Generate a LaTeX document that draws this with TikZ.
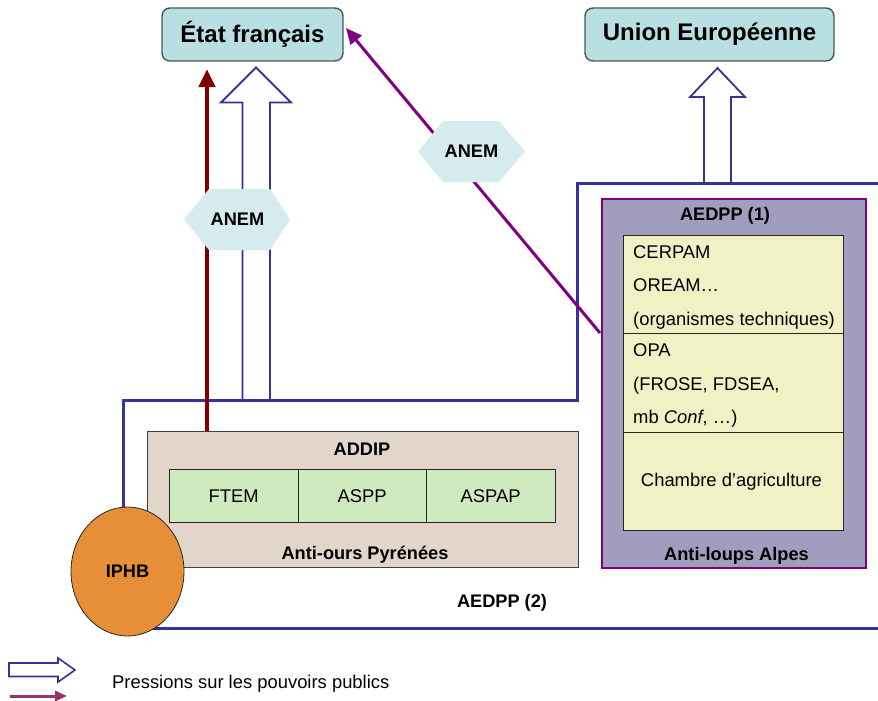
\documentclass[tikz,border=0pt]{standalone}
\usepackage{fontspec}
\setmainfont{Liberation Sans}
\usetikzlibrary{arrows.meta,shapes.geometric}
\definecolor{tealfill}{HTML}{B8DFE2}
\definecolor{boxedge}{HTML}{4A5656}
\definecolor{anemfill}{HTML}{D5EBEE}
\definecolor{outline}{HTML}{333399}
\definecolor{darkred}{HTML}{800000}
\definecolor{purp}{HTML}{800080}
\definecolor{legpurp}{HTML}{993366}
\definecolor{iphbfill}{HTML}{E68F38}
\definecolor{beige}{HTML}{E2D6CB}
\definecolor{greenfill}{HTML}{CFEABF}
\definecolor{lavender}{HTML}{A09DBD}
\definecolor{yellowfill}{HTML}{F0F2C6}
\begin{document}
\begin{tikzpicture}[x=1pt,y=-1pt,
  every node/.style={font=\fontsize{18.4}{22}\selectfont, inner sep=0pt},
  boldtxt/.style={font=\fontsize{18.2}{22}\selectfont\bfseries},
  govbox/.style={draw=boxedge, fill=tealfill, rounded corners=8pt, line width=1.4pt,
    minimum height=53pt, font=\fontsize{24}{28}\selectfont\bfseries},
  blueline/.style={draw=outline, line width=3pt},
  hollow/.style={draw=outline, fill=white, line width=1.8pt, line join=miter},
  anemhex/.style={fill=anemfill},
  plainbox/.style={draw=black!85, line width=0.8pt, anchor=north west},
  redarrow/.style={draw=darkred, line width=4.5pt, -{Triangle[length=18pt,width=16pt]}},
  purparrow/.style={draw=purp, line width=3pt, -{Triangle[length=16pt,width=14pt]}},
  legarrow/.style={draw=legpurp, line width=3pt, -{Triangle[length=12pt,width=10pt]}}
]
\useasboundingbox (0,0) rectangle (878,701);

% top boxes
\node[govbox, minimum width=181pt] (etat) at (252.5,34.5) {État français};
\node[govbox, minimum width=249pt] (ue) at (709.5,34.5) {Union Européenne};

% AEDPP (2) outline
\draw[blueline] (123,560) -- (123,400) -- (577,400) -- (577,183) -- (880,183);
\draw[blueline] (127,628) -- (880,628);

% hollow arrows
\draw[hollow] (242.5,400) -- (242.5,102.5) -- (221,102.5) -- (256,67.5) -- (291,102.5) -- (270,102.5) -- (270,400) -- cycle;
\draw[hollow] (704,183) -- (704,97) -- (690,97) -- (717.5,68) -- (745,97) -- (731,97) -- (731,183) -- cycle;

% ADDIP box
\node[plainbox, fill=beige, draw=black!75, minimum width=431pt, minimum height=136pt] (addip) at (147,431) {};
\node[boldtxt, anchor=base] (addiplbl) at (362,455) {ADDIP};
\node[boldtxt, anchor=base] (antiours) at (365,559) {Anti-ours Pyrénées};
\node[plainbox, fill=greenfill, minimum width=128.5pt, minimum height=53pt] (ftem) at (169,469) {FTEM};
\node[plainbox, fill=greenfill, minimum width=128.5pt, minimum height=53pt] (aspp) at (297.5,469) {ASPP};
\node[plainbox, fill=greenfill, minimum width=128.5pt, minimum height=53pt] (aspap) at (426,469) {ASPAP};

% red arrow
\coordinate (redbot) at (207,431);
\coordinate (redtop) at (207,69);
\draw[redarrow] (redbot) -- (redtop);

% AEDPP (1) box
\node[plainbox, fill=lavender, draw=purp, line width=2pt, minimum width=264pt, minimum height=369pt] (aedpp) at (601,198) {};
\node[boldtxt, anchor=base] (aedpplbl) at (725,220.5) {AEDPP (1)};
\node[boldtxt, anchor=base] (antiloups) at (736.5,560) {Anti-loups Alpes};
\node[plainbox, fill=yellowfill, minimum width=220pt, minimum height=98pt] (tech) at (622.5,235) {};
\node[plainbox, fill=yellowfill, minimum width=220pt, minimum height=98.5pt] (opa) at (622.5,333) {};
\node[plainbox, fill=yellowfill, minimum width=220pt, minimum height=98.5pt] (chambre) at (622.5,431.5) {};
\node[anchor=base west] (t1) at (633,258) {CERPAM};
\node[anchor=base west] (t2) at (633,291.5) {OREAM…};
\node[anchor=base west] (t3) at (633,325) {(organismes techniques)};
\node[anchor=base west] (t4) at (633,356.5) {OPA};
\node[anchor=base west] (t5) at (633,390) {(FROSE, FDSEA,};
\node[anchor=base west] (t6) at (633,423.5) {mb \textit{Conf}, …)};
\node[anchor=base] (t7) at (731.5,486) {Chambre d’agriculture};

\node[boldtxt, anchor=base] (aedpp2) at (502,607) {AEDPP (2)};

% purple arrow
\coordinate (purpstart) at (600,333);
\coordinate (purpend) at (346,28);
\draw[purparrow] (purpstart) -- (purpend);

% ANEM hexagons
\fill[anemhex] (184,219.5) -- (209,189) -- (270,189) -- (290,219.5) -- (270,250) -- (209,250) -- cycle;
\node[boldtxt] (anem1) at (237.5,219.5) {ANEM};
\fill[anemhex] (418,151.5) -- (443,121) -- (499,121) -- (525,151.5) -- (499,182) -- (443,182) -- cycle;
\node[boldtxt] (anem2) at (471.5,151.5) {ANEM};

% IPHB
\node[ellipse, draw=black!85, line width=0.8pt, fill=iphbfill, minimum width=113pt, minimum height=129pt, boldtxt] (iphb) at (127.5,571.5) {IPHB};

% legend
\draw[hollow, line width=1.6pt] (9,663) -- (58,663) -- (58,658) -- (75,670) -- (58,682) -- (58,676.5) -- (9,676.5) -- cycle;
\coordinate (legs) at (10,696);
\coordinate (lege) at (67,696);
\draw[legarrow] (legs) -- (lege);
\node[anchor=base west] (legtxt) at (112,688.5) {Pressions sur les pouvoirs publics};
\end{tikzpicture}
\end{document}
